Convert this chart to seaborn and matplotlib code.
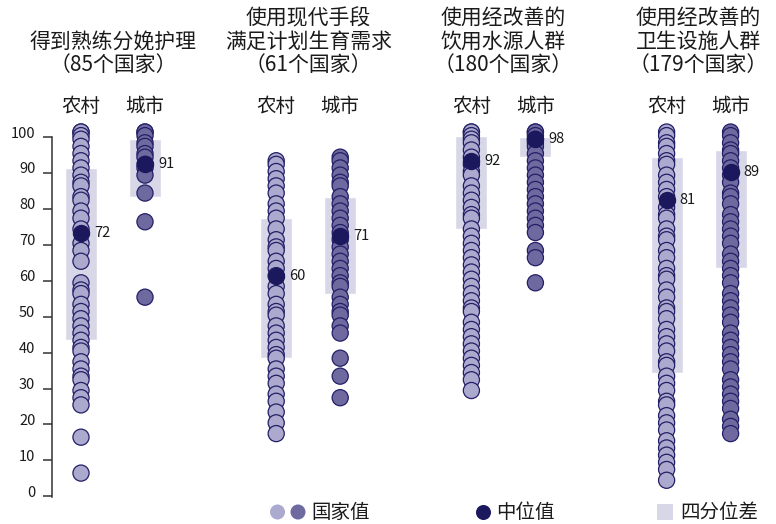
import numpy as np
import pandas as pd
import matplotlib
matplotlib.use('Agg')
import matplotlib.pyplot as plt
import seaborn as sns
from matplotlib import transforms

# --- data ---
areas = ['农村', '城市']

rural_birth = [100, 100, 99, 98, 96, 94, 92, 90, 88, 86, 85, 82, 81, 78, 76, 73, 69, 67, 64,
               58, 56, 55, 52, 50, 48, 46, 44, 42, 40, 39, 36, 34, 32, 31, 28, 26, 24, 15, 5]
urban_birth = [100, 100, 99, 97, 96, 94, 93, 91, 90, 88, 83, 75, 54]

rural_family = [92, 91, 89, 87, 85, 83, 80, 78, 76, 73, 70, 68, 67, 64, 62, 60, 57, 55, 52,
                50, 49, 46, 44, 42, 40, 38, 37, 34, 32, 30, 27, 25, 22, 19, 16]
urban_family = [93, 92, 90, 88, 86, 85, 82, 80, 78, 76, 74, 72, 70, 68, 66, 64, 62, 60, 58,
                57, 54, 52, 50, 49, 46, 44, 37, 32, 26]

rural_water = [100, 100, 99, 98, 97, 95, 93, 91, 89, 88, 85, 83, 81, 79, 77, 76, 73, 71, 69,
               67, 65, 63, 61, 59, 57, 55, 53, 51, 50, 47, 45, 43, 41, 39, 37, 35, 33, 31, 28]
urban_water = [100, 100, 99, 98, 97, 96, 94, 92, 90, 88, 86, 84, 82, 80, 78, 76, 74, 72,
               67, 65, 58]

rural_sanit = [100, 99, 97, 96, 94, 92, 91, 88, 86, 84, 82, 79, 77, 76, 73, 71, 70, 67, 65,
               62, 60, 59, 56, 54, 51, 50, 48, 45, 43, 41, 39, 36, 35, 32, 30, 28, 25, 24,
               21, 19, 17, 14, 12, 10, 8, 6, 3]
urban_sanit = [100, 99, 97, 95, 94, 92, 90, 88, 86, 83, 82, 80, 77, 75, 73, 71, 69, 66, 64,
               62, 60, 58, 55, 53, 51, 49, 47, 44, 42, 40, 38, 36, 34, 31, 29, 27, 25, 23,
               20, 18, 16]

# per column (rural, urban) for each panel
medians = [72, 91, 60, 71, 92, 98, 81, 89]
q1 = [42, 82, 37, 55, 73, 93, 33, 62]
q3 = [90, 98, 76, 82, 99, 98.7, 93, 95]

titles = [
    ['得到熟练分娩护理', '（85个国家）'],
    ['使用现代手段', '满足计划生育需求', '（61个国家）'],
    ['使用经改善的', '饮用水源人群', '（180个国家）'],
    ['使用经改善的', '卫生设施人群', '（179个国家）'],
]

columns = [rural_birth, urban_birth, rural_family, urban_family,
           rural_water, urban_water, rural_sanit, urban_sanit]

# --- style ---
rural_c = '#aba9cd'
urban_c = '#6e6aa0'
edge_c = '#231e66'
median_c = '#1c185e'
iqr_c = '#d8d7e8'
text_c = '#1a1a1a'

sns.set_style('white')
plt.rcParams['font.family'] = ['Noto Sans CJK SC', 'DejaVu Sans']

panel_gap = 3.05
xpos = [i * panel_gap + j for i in range(4) for j in range(2)]

rows = []
for k, vals in enumerate(columns):
    for v in vals:
        rows.append({'x': xpos[k], 'value': v, 'area': areas[k % 2]})
df = pd.DataFrame(rows)

fig = plt.figure(figsize=(7.76, 5.24), dpi=100)
ax = fig.add_axes([52 / 776, 18.6 / 524, 724 / 776, 385.4 / 524])

# interquartile boxes
ax.bar(xpos, np.array(q3) - np.array(q1), bottom=q1, width=0.5, color=iqr_c, zorder=1)

sns.scatterplot(data=df, x='x', y='value', hue='area',
                palette={'农村': rural_c, '城市': urban_c},
                s=135, edgecolor=edge_c, linewidth=0.9, legend=False,
                ax=ax, clip_on=False, zorder=2)

# medians
ax.scatter(xpos, medians, s=135, color=median_c, edgecolor=median_c,
           linewidth=0.9, zorder=3, clip_on=False)
for x, m in zip(xpos, medians):
    ax.annotate(f'{m}', (x, m), xytext=(9.5, 0), textcoords='offset points',
                ha='left', va='center', fontsize=10.5, color=text_c)

ax.set_xlim(-29 / 64, 695 / 64)
ax.set_ylim(-4, 103.35)
ax.set_xlabel('')
ax.set_ylabel('')
ax.set_xticks([])

for s in ['top', 'right', 'bottom']:
    ax.spines[s].set_visible(False)
ax.spines['left'].set_bounds(-1.6, 98.55)
ax.spines['left'].set_color('#333333')
ax.spines['left'].set_linewidth(1.1)

ticks = list(range(0, 101, 10))
ax.set_yticks(ticks)
ax.set_yticks([t - 1.45 for t in ticks], minor=True)
ax.tick_params(axis='y', which='major', length=0, pad=12, labelsize=10.5,
               labelcolor=text_c)
ax.tick_params(axis='y', which='minor', length=6.5, width=1.1, color='#333333',
               left=True)

# column headers
for k, x in enumerate(xpos):
    ax.text(x, 107, areas[k % 2], ha='center', va='center', fontsize=14, color=text_c)

# panel titles
trans = transforms.blended_transform_factory(ax.transData, fig.transFigure)
line_y = [18, 42, 65]
for i, lines in enumerate(titles):
    xc = i * panel_gap + 0.5
    ys = line_y[-len(lines):]
    for line, yp in zip(lines, ys):
        fig.text(xc, 1 - yp / 524, line, transform=trans, ha='center', va='center',
                 fontsize=15, color=text_c)

# legend strip
lax = fig.add_axes([0, 0, 1, 30 / 524])
lax.set_xlim(0, 776)
lax.set_ylim(0, 30)
lax.axis('off')
lax.scatter([277.5, 298], [12, 12], s=117, color=[rural_c, urban_c], linewidth=0)
lax.text(311, 12, '国家值', ha='left', va='center', fontsize=14, color=text_c)
lax.scatter([483], [12], s=117, color=median_c, linewidth=0)
lax.text(496, 12, '中位值', ha='left', va='center', fontsize=14, color=text_c)
lax.scatter([665], [12], s=133, marker='s', color=iqr_c, linewidth=0)
lax.text(680, 12, '四分位差', ha='left', va='center', fontsize=14, color=text_c)

fig.savefig('out.png', dpi=100)
